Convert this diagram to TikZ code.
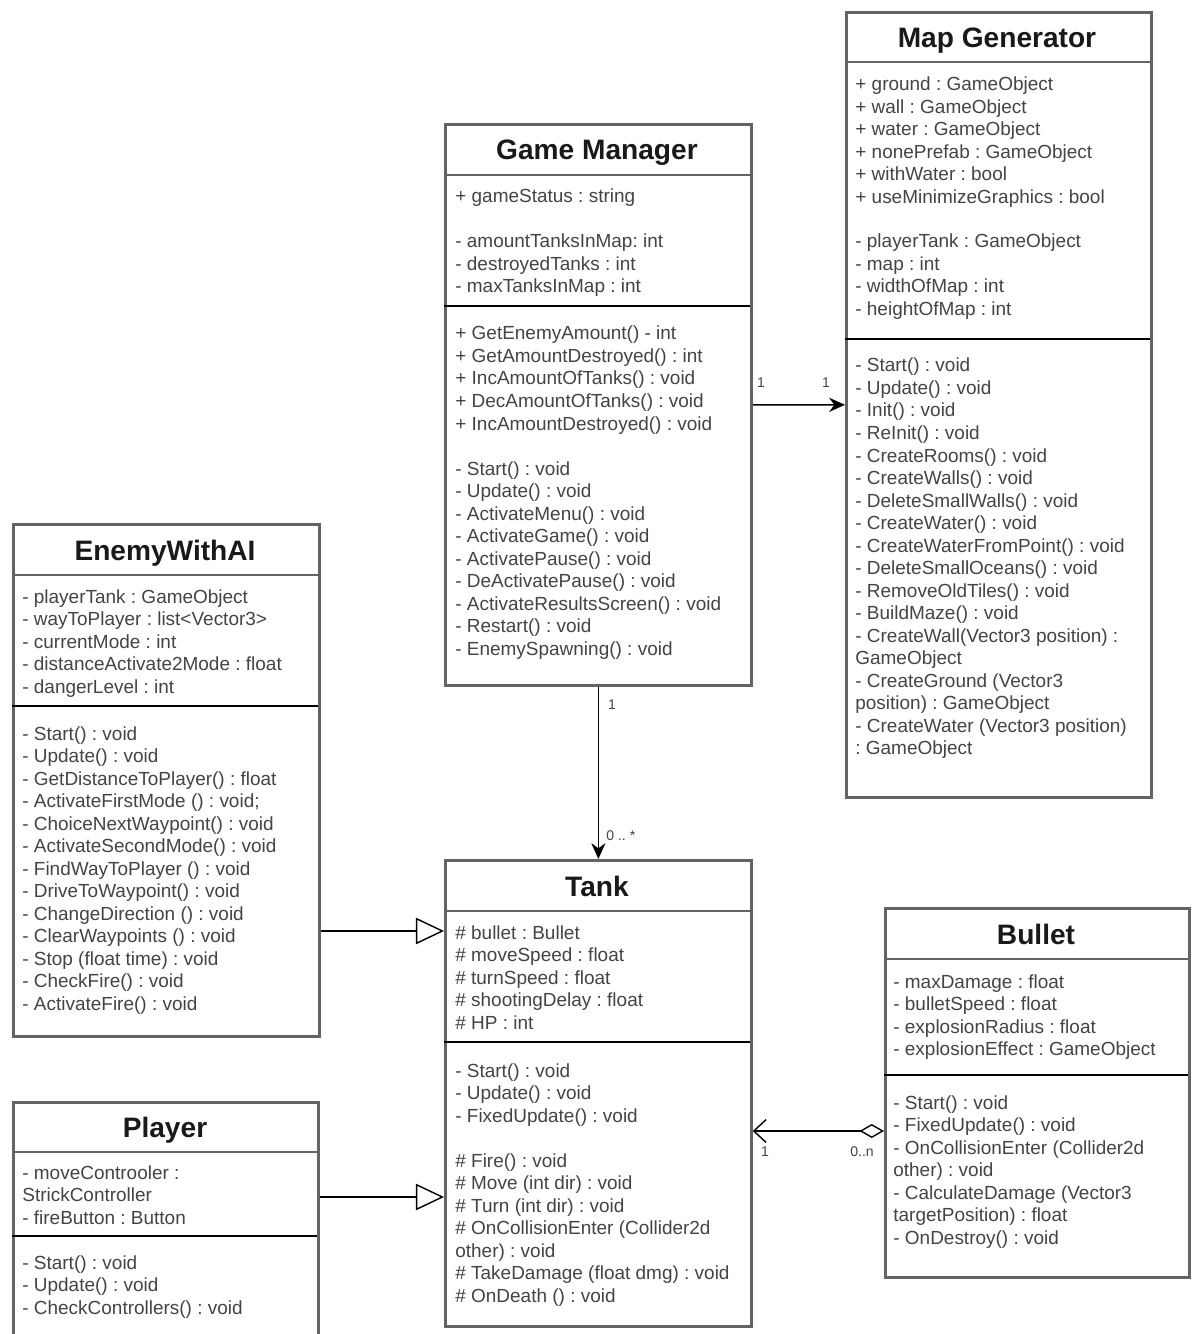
\documentclass[tikz,border=0pt]{standalone}
\usepackage{fontspec}
\setmainfont{Liberation Sans}
\usetikzlibrary{arrows.meta,calc}
\definecolor{boxgrey}{RGB}{100,100,100}
\definecolor{textgrey}{RGB}{68,68,68}
\frenchspacing
\tikzset{
  classbox/.style={draw=boxgrey, line width=1.6pt, anchor=north west, inner sep=0pt},
  titlesep/.style={draw=boxgrey, line width=1.4pt},
  compsep/.style={draw=black, line width=0.8pt},
  classname/.style={anchor=base, inner sep=0pt, font=\fontsize{16}{19}\selectfont\bfseries, text=black!90},
  member/.style={anchor=base west, inner sep=0pt, font=\fontsize{10.8}{12.7}\selectfont, text=textgrey},
  mult/.style={inner sep=0pt, font=\fontsize{8}{9}\selectfont, text=textgrey},
  assoc/.style={draw=black, line width=0.8pt},
  inherit/.style={assoc, -{Triangle[open, length=16pt, width=15pt, fill=white]}},
}

\begin{document}
\begin{tikzpicture}[x=0.02cm, y=-0.02cm]
			%%%%% START %%%%%
			\clip (0,0) rectangle (1192,1334);
			\fill[white] (0,0) rectangle (1192,1334);
			
			% Game Manager
			\node[classbox, minimum width=6.12cm, minimum height=11.22cm] (gm) at (444,123) {};
			\node[classname] (gm-t) at (597,160) {Game Manager};
			\draw[titlesep] (444,175) -- (750,175);
			\draw[compsep] (444,306) -- (750,306);
			\node[member] (gm-s) at (455,203) {+ gameStatus : string};
			\foreach \txt [count=\i from 0] in {- amountTanksInMap: int, - destroyedTanks : int, - maxTanksInMap : int}
				\node[member] (gm-a\i) at (455,{248+22.5*\i}) {\txt};
			\foreach \txt [count=\i from 0] in {+ GetEnemyAmount() - int, + GetAmountDestroyed() : int, + IncAmountOfTanks() : void, + DecAmountOfTanks() : void, + IncAmountDestroyed() : void}
				\node[member] (gm-p\i) at (455,{340+22.5*\i}) {\txt};
			\foreach \txt [count=\i from 0] in {- Start() : void, - Update() : void, - ActivateMenu() : void, - ActivateGame() : void, - ActivatePause() : void, - DeActivatePause() : void, - ActivateResultsScreen() : void, - Restart() : void, - EnemySpawning() : void}
				\node[member] (gm-m\i) at (455,{475+22.5*\i}) {\txt};
			
			% Map Generator
			\node[classbox, minimum width=6.1cm, minimum height=15.7cm] (mg) at (845,11) {};
			\node[classname] (mg-t) at (997,48) {Map Generator};
			\draw[titlesep] (845,62) -- (1150,62);
			\draw[compsep] (845,339) -- (1150,339);
			\foreach \txt [count=\i from 0] in {+ ground : GameObject, + wall : GameObject, + water : GameObject, + nonePrefab : GameObject, + withWater : bool, + useMinimizeGraphics : bool}
				\node[member] (mg-p\i) at (855,{91+22.5*\i}) {\txt};
			\foreach \txt [count=\i from 0] in {- playerTank : GameObject, - map : int, - widthOfMap : int, - heightOfMap : int}
				\node[member] (mg-a\i) at (855,{248+22.5*\i}) {\txt};
			\foreach \txt [count=\i from 0] in {- Start() : void, - Update() : void, - Init() : void, - ReInit() : void, - CreateRooms() : void, - CreateWalls() : void, - DeleteSmallWalls() : void, - CreateWater() : void, - CreateWaterFromPoint() : void, - DeleteSmallOceans() : void, - RemoveOldTiles() : void, - BuildMaze() : void, - CreateWall(Vector3 position) :, GameObject, - CreateGround (Vector3, position) : GameObject, - CreateWater (Vector3 position), : GameObject}
				\node[member] (mg-m\i) at (855,{372+22.5*\i}) {\txt};
			
			% EnemyWithAI
			\node[classbox, minimum width=6.12cm, minimum height=10.24cm] (enemy) at (12,523) {};
			\node[classname] (enemy-t) at (165,560) {EnemyWithAI};
			\draw[titlesep] (12,575) -- (318,575);
			\draw[compsep] (12,706) -- (318,706);
			\foreach \txt [count=\i from 0] in {- playerTank : GameObject, - wayToPlayer : list<Vector3>, - currentMode : int, - distanceActivate2Mode : float, - dangerLevel : int}
				\node[member] (enemy-a\i) at (22,{603+22.5*\i}) {\txt};
			\foreach \txt [count=\i from 0] in {- Start() : void, - Update() : void, - GetDistanceToPlayer() : float, {- ActivateFirstMode () : void;}, - ChoiceNextWaypoint() : void, - ActivateSecondMode() : void, - FindWayToPlayer () : void, - DriveToWaypoint() : void, - ChangeDirection () : void, - ClearWaypoints () : void, - Stop (float time) : void, - CheckFire() : void, - ActivateFire() : void}
				\node[member] (enemy-m\i) at (22,{740+22.5*\i}) {\txt};
			
			% Tank
			\node[classbox, minimum width=6.12cm, minimum height=9.32cm] (tank) at (444,859) {};
			\node[classname] (tank-t) at (597,896) {Tank};
			\draw[titlesep] (444,911) -- (750,911);
			\draw[compsep] (444,1042) -- (750,1042);
			\foreach \txt [count=\i from 0] in {\# bullet : Bullet, \# moveSpeed : float, \# turnSpeed : float, \# shootingDelay : float, \# HP : int}
				\node[member] (tank-a\i) at (455,{939+22.5*\i}) {\txt};
			\foreach \txt [count=\i from 0] in {- Start() : void, - Update() : void, - FixedUpdate() : void}
				\node[member] (tank-p\i) at (455,{1077+22.5*\i}) {\txt};
			\foreach \txt [count=\i from 0] in {\# Fire() : void, \# Move (int dir) : void, \# Turn (int dir) : void, \# OnCollisionEnter (Collider2d, other) : void, \# TakeDamage (float dmg) : void, \# OnDeath () : void}
				\node[member] (tank-m\i) at (455,{1167+22.5*\i}) {\txt};
			
			% Bullet
			\node[classbox, minimum width=6.08cm, minimum height=7.38cm] (bullet) at (884,907) {};
			\node[classname] (bullet-t) at (1036,944) {Bullet};
			\draw[titlesep] (884,959) -- (1188,959);
			\draw[compsep] (884,1075) -- (1188,1075);
			\foreach \txt [count=\i from 0] in {- maxDamage : float, - bulletSpeed : float, - explosionRadius : float, - explosionEffect : GameObject}
				\node[member] (bullet-a\i) at (893,{988+22.5*\i}) {\txt};
			\foreach \txt [count=\i from 0] in {- Start() : void, - FixedUpdate() : void, - OnCollisionEnter (Collider2d, other) : void, - CalculateDamage (Vector3, targetPosition) : float, - OnDestroy() : void}
				\node[member] (bullet-m\i) at (893,{1109+22.5*\i}) {\txt};
			
			% Player
			\node[classbox, minimum width=6.1cm, minimum height=5cm] (player) at (12,1101) {};
			\node[classname] (player-t) at (165,1137) {Player};
			\draw[titlesep] (12,1152) -- (317,1152);
			\draw[compsep] (12,1236) -- (317,1236);
			\foreach \txt [count=\i from 0] in {- moveControoler :, StrickController, - fireButton : Button}
				\node[member] (player-a\i) at (22,{1179+22.5*\i}) {\txt};
			\foreach \txt [count=\i from 0] in {- Start() : void, - Update() : void, - CheckControllers() : void}
				\node[member] (player-m\i) at (22,{1269+22.5*\i}) {\txt};
			
			% connectors
			\coordinate (tank-in1) at ($(tank.north west)+(0,72)$);
			\coordinate (tank-in2) at ($(tank.north west)+(0,338)$);
			\coordinate (tank-in3) at ($(tank.north east)+(0,272)$);
			
			\draw[assoc, -{Stealth[length=9pt, width=8pt]}] (gm.east) -- (mg.west);
			\node[mult] (gm-mg1) at (761,383) {1};
			\node[mult] (gm-mg2) at (826,383) {1};
			
			\draw[assoc, -{Stealth[length=9pt, width=8pt]}] (gm.south) -- (tank.north);
			\node[mult] (gm-tank1) at (612,705) {1};
			\node[mult, anchor=west] (gm-tank2) at (606,836) {0 .. *};
			
			\draw[inherit] (enemy.east |- tank-in1) -- (tank-in1);
			\draw[inherit] (player.east |- tank-in2) -- (tank-in2);
			
			\draw[assoc, {Diamond[open, length=14pt, width=8pt]}-{Straight Barb[length=7pt, width=13pt]}] (bullet.west |- tank-in3) -- (tank-in3);
			\node[mult] (bullet-tank1) at (765,1152) {1};
			\node[mult] (bullet-tank2) at (862,1152) {0..n};
			
			%%%%% END %%%%%
		\end{tikzpicture}
\end{document}
